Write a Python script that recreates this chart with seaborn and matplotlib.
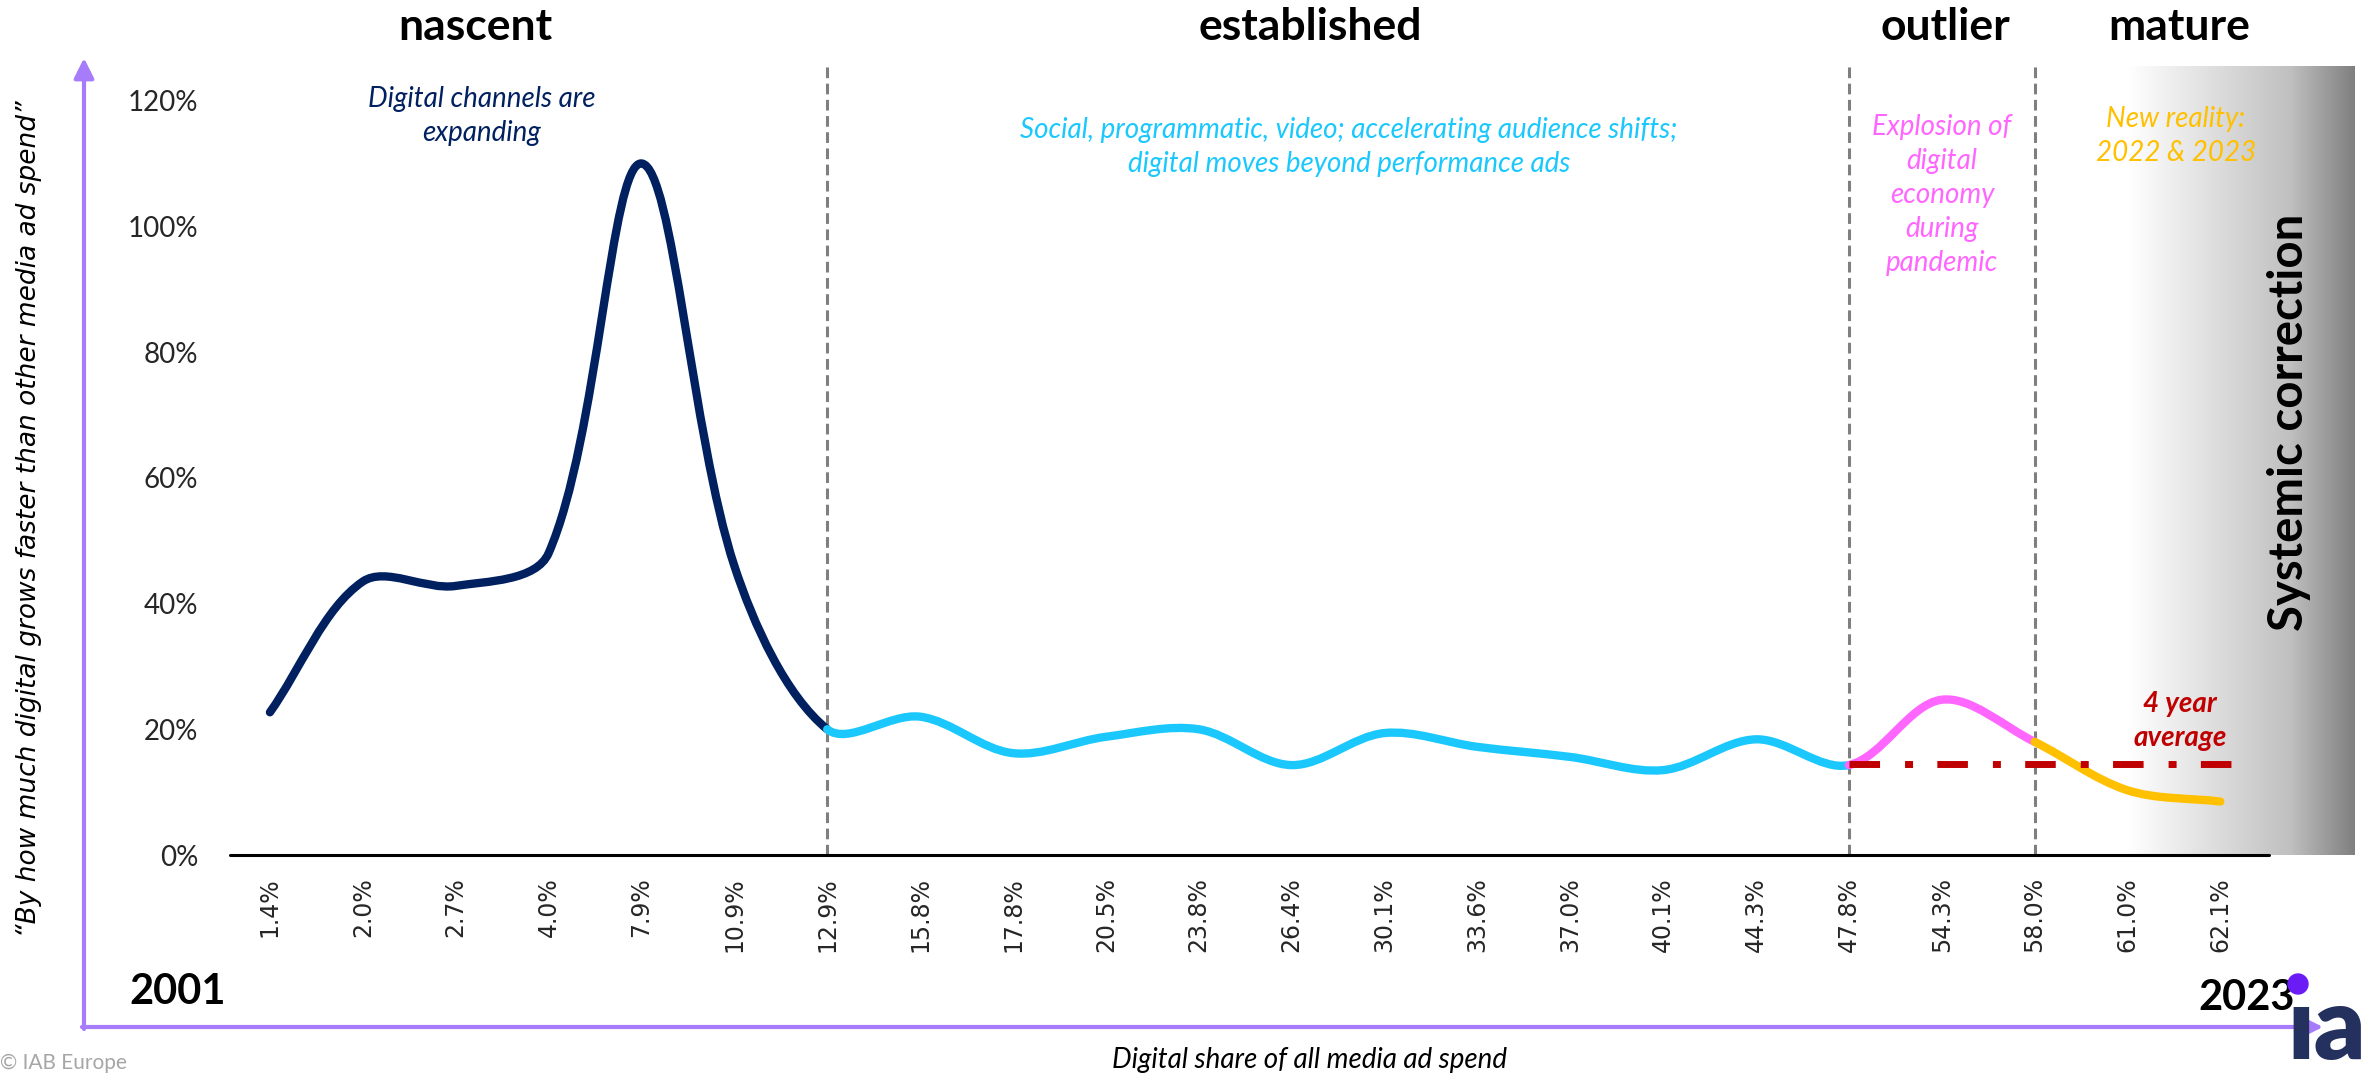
import numpy as np
import matplotlib
matplotlib.use("Agg")
import matplotlib.pyplot as plt
import seaborn as sns
from matplotlib.path import Path
from matplotlib.patches import PathPatch, Circle
from matplotlib.colors import LinearSegmentedColormap
from matplotlib.transforms import IdentityTransform

# ---- data ----
share_labels = ["1.4%", "2.0%", "2.7%", "4.0%", "7.9%", "10.9%", "12.9%", "15.8%",
                "17.8%", "20.5%", "23.8%", "26.4%", "30.1%", "33.6%", "37.0%", "40.1%",
                "44.3%", "47.8%", "54.3%", "58.0%", "61.0%", "62.1%"]
growth_gap = [22.7, 43.5, 42.8, 48.0, 110.0, 46.0, 20.0, 22.0, 16.2, 18.8, 20.0,
              14.3, 19.4, 17.2, 15.6, 13.5, 18.4, 14.3, 24.7, 18.0, 10.3, 8.5]
phase_names = ["nascent", "established", "outlier", "mature"]
phase_start = [0, 6, 17, 19]
phase_end = [6, 17, 19, 21]
phase_colors = ["#002060", "#1BC8FD", "#FF66FF", "#FFC000"]
avg_4yr = 14.5
yticks = [0, 20, 40, 60, 80, 100, 120]

W, H = 2366, 1074
sns.set_theme(style="white")
plt.rcParams["font.family"] = ["Lato", "DejaVu Sans"]

fig = plt.figure(figsize=(W / 100, H / 100), dpi=100)
ax = fig.add_axes([230 / W, 1 - 855 / H, (2355 - 230) / W, (855 - 66) / H])

x = np.arange(len(growth_gap), dtype=float)
y = np.array(growth_gap)
top = 125.5

# smoothing is done in screen space like excel does (px per unit on each axis)
sx, sy = 92.85, 855 / 136.0
px, py = x * sx, y * sy
n = len(x)


def ctrl(i):
    # bezier control points before / after point i,
    # tangent weighted by the length of the neighbouring segments
    a, b = max(i - 1, 0), min(i + 1, n - 1)
    tx, ty = px[b] - px[a], py[b] - py[a]
    if i == 0 or i == n - 1:
        return (px[i] - tx / 3, py[i] - ty / 3), (px[i] + tx / 3, py[i] + ty / 3)
    dp = np.hypot(px[i] - px[a], py[i] - py[a])
    dn = np.hypot(px[b] - px[i], py[b] - py[i])
    kp, kn = dp / (dp + dn) / 3, dn / (dp + dn) / 3
    return (px[i] - tx * kp, py[i] - ty * kp), (px[i] + tx * kn, py[i] + ty * kn)


def segment(i):
    c1 = ctrl(i)[1]
    c2 = ctrl(i + 1)[0]
    return [(c1[0] / sx, c1[1] / sy), (c2[0] / sx, c2[1] / sy), (x[i + 1], y[i + 1])]


# gradient "systemic correction" panel
grad = LinearSegmentedColormap.from_list(
    "grad", [(0, "#ffffff"), (0.717, "#c0c0c0"), (1, "#7f7f7f")])
ax.imshow(np.linspace(0, 1, 256)[None, :], extent=[20.01, 22.45, 0, top],
          aspect="auto", cmap=grad, interpolation="bilinear", zorder=0)

# phase separators
ax.vlines(phase_start[1:], 0, top, colors="#7F7F7F", lw=2.2,
          linestyles=[(0, (3.5, 1.8))], zorder=1)

# baseline
ax.plot([-0.43, 21.52], [0, 0], color="black", lw=2.2, clip_on=False, zorder=2)

# smoothed line, coloured per phase
for s, e, c in zip(phase_start, phase_end, phase_colors):
    verts = [(x[s], y[s])]
    codes = [Path.MOVETO]
    for i in range(s, e):
        verts += segment(i)
        codes += [Path.CURVE4] * 3
    ax.add_patch(PathPatch(Path(verts, codes), fill=False, edgecolor=c, lw=6,
                           capstyle="round", joinstyle="round", zorder=3))

# 4 year average
sns.lineplot(x=[phase_start[2], phase_end[3] + 0.18], y=[avg_4yr, avg_4yr], ax=ax,
             color="#C00000", lw=5, linestyle=(0, (4.4, 3.6, 1.15, 3.5)),
             solid_capstyle="butt", zorder=4)

ax.set_xlim(-0.43, 22.45)
ax.set_ylim(0, top)
ax.set_xticks(x)
ax.set_xticklabels(share_labels, rotation=90, fontsize=17, family="DejaVu Sans")
ax.set_yticks(yticks)
ax.set_yticklabels([f"{v}%" for v in yticks], fontsize=20)
ax.tick_params(axis="x", length=0, pad=16)
ax.tick_params(axis="y", length=0, pad=23)
for sp in ax.spines.values():
    sp.set_visible(False)
ax.set_xlabel("")
ax.set_ylabel("")


def ftxt(tx, ty, s, **kw):
    fig.text(tx / W, 1 - ty / H, s, ha="center", va="center", **kw)


# phase headers
for name, hx in zip(phase_names, [475, 1310, 1945, 2179]):
    ftxt(hx, 27, name, fontsize=32, weight="bold", color="black")

ftxt(482, 116, "Digital channels are\nexpanding", fontsize=20, style="italic",
     color=phase_colors[0], linespacing=1.37)
ftxt(1349, 147, "Social, programmatic, video; accelerating audience shifts;\n"
     "digital moves beyond performance ads", fontsize=20, style="italic",
     color=phase_colors[1], linespacing=1.42)
ftxt(1942, 195, "Explosion of\ndigital\neconomy\nduring\npandemic", fontsize=20,
     style="italic", color=phase_colors[2], linespacing=1.38)
ftxt(2176, 136, "New reality:\n2022 & 2023", fontsize=20, style="italic",
     color=phase_colors[3], linespacing=1.38)
ftxt(2180, 721, "4 year\naverage", fontsize=20, style="italic", weight="bold",
     color="#C00000", linespacing=1.37)
ftxt(2289, 422, "Systemic correction", fontsize=34, weight="bold", rotation=90,
     color="black")

ftxt(178, 992, "2001", fontsize=30, weight="bold", color="black")
ftxt(2247, 998, "2023", fontsize=30, weight="bold", color="black")
ftxt(1310, 1060, "Digital share of all media ad spend", fontsize=20, style="italic",
     color="black")
ftxt(29, 519, "\u201cBy how much digital grows faster than other media ad spend\u201d",
     fontsize=19, style="italic", rotation=90, color="black", family="DejaVu Sans")
fig.text(0, 1 - 1063 / H, "\u00a9 IAB Europe", ha="left", va="center",
         fontsize=15, color="#A6A6A6")

# axis arrows
purple = "#A67CFB"
arrow = dict(arrowstyle="-|>", lw=3, color=purple, mutation_scale=30,
             shrinkA=0, shrinkB=0)
ax.annotate("", xy=(2323, H - 1027), xytext=(82, H - 1027),
            xycoords="figure pixels", textcoords="figure pixels", arrowprops=arrow)
ax.annotate("", xy=(84, H - 58), xytext=(84, H - 1029),
            xycoords="figure pixels", textcoords="figure pixels", arrowprops=arrow)

# logo
ftxt(2327, 1030, "\u0131a", fontsize=72, weight="heavy", color="#24305E")
fig.add_artist(Circle((2298, H - 984), 10, transform=IdentityTransform(),
                      color="#6B1CF5", zorder=10))

fig.savefig("out.png", dpi=100)
